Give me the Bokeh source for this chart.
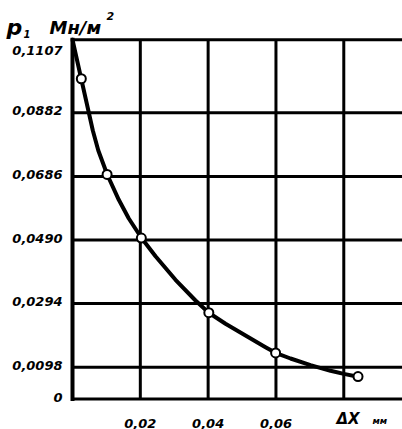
from bokeh.plotting import figure
from bokeh.models import Range1d
from bokeh.core.properties import value
from bokeh.embed import file_html
from bokeh.resources import INLINE

# ---- data ----
# smooth curve p1(ΔX), sampled along the drawn line
curve_x = [0.0, 0.00257, 0.00434, 0.00599, 0.00761, 0.01023, 0.01365, 0.01660,
           0.02035, 0.02448, 0.03037, 0.03627, 0.04019, 0.04512, 0.05102, 0.05692,
           0.05986, 0.06429, 0.07019, 0.07608, 0.08000, 0.08419]
curve_y = [0.11070, 0.09868, 0.09045, 0.08275, 0.07658, 0.06919, 0.06139, 0.05563,
           0.04962, 0.04401, 0.03674, 0.03036, 0.02657, 0.02318, 0.01957, 0.01596,
           0.01424, 0.01248, 0.01042, 0.00869, 0.00774, 0.00687]
# measured points (open circles)
point_x = [0.0026, 0.0102, 0.0203, 0.0402, 0.0599, 0.0842]
point_y = [0.0987, 0.0692, 0.0496, 0.0266, 0.0142, 0.0069]

y_ticks = [0, 0.0098, 0.0294, 0.0490, 0.0686, 0.0882, 0.1107]
y_tick_labels = ["0", "0,0098", "0,0294", "0,0490", "0,0686", "0,0882", "0,1107"]
x_ticks = [0.02, 0.04, 0.06]
x_tick_labels = ["0,02", "0,04", "0,06"]
x_grid = [0.02, 0.04, 0.06, 0.08]

# ---- layout constants (pixels in the picture) ----
W, H = 402, 429
PX_X0, PX_PER_X = 72.0, 3391.0      # picture x of ΔX=0, pixels per unit
PX_Y0, PX_PER_Y = 398.5, 3244.8     # picture y of p1=0, pixels per unit
x_start = (0 - PX_X0) / PX_PER_X
x_end = (W - PX_X0) / PX_PER_X
y_start = (PX_Y0 - H) / PX_PER_Y
y_end = PX_Y0 / PX_PER_Y

def dx(px):
    return (px - PX_X0) / PX_PER_X

def dy(py):
    return (PX_Y0 - py) / PX_PER_Y

FONT = value("DejaVu Sans")

p = figure(width=W, height=H, output_backend="svg", toolbar_location=None,
           x_range=Range1d(x_start, x_end), y_range=Range1d(y_start, y_end),
           x_axis_type=None, y_axis_type=None, min_border=0)
p.outline_line_color = None
p.background_fill_color = "white"
p.border_fill_color = "white"

y_top = y_ticks[-1]

# grid lines
hy = y_ticks[1:]
p.segment(x0=[0] * len(hy), y0=hy, x1=[x_end] * len(hy), y1=hy,
          line_color="black", line_width=3)
p.segment(x0=x_grid, y0=[0] * len(x_grid), x1=x_grid, y1=[y_top] * len(x_grid),
          line_color="black", line_width=3)
# axis lines
p.segment(x0=[0], y0=[0], x1=[x_end], y1=[0], line_color="black",
          line_width=3, line_cap="square")
p.segment(x0=[0], y0=[0], x1=[0], y1=[y_top], line_color="black",
          line_width=4, line_cap="square")

# tick labels
p.text(x=[0] * (len(y_ticks) - 1), y=y_ticks[:-1], text=y_tick_labels[:-1],
       text_font=FONT, text_font_size="13px", text_font_style="bold italic",
       text_color="black", text_align="right", text_baseline="middle",
       x_offset=-10, y_offset=-2)
p.text(x=[0], y=y_ticks[-1:], text=y_tick_labels[-1:],
       text_font=FONT, text_font_size="13px", text_font_style="bold italic",
       text_color="black", text_align="right", text_baseline="alphabetic",
       x_offset=-10, y_offset=11)
p.text(x=x_ticks, y=[0] * len(x_ticks), text=x_tick_labels, text_font=FONT,
       text_font_size="13px", text_font_style="bold italic", text_color="black",
       text_align="center", text_baseline="alphabetic", y_offset=24)

# curve and points
p.line(curve_x, curve_y, line_color="black", line_width=4,
       line_join="round", line_cap="round")
p.scatter(point_x, point_y, marker="circle", size=9, fill_color="white",
          line_color="black", line_width=2)

# title and unit labels
def lab(px, py, t, size):
    p.text(x=[dx(px)], y=[dy(py)], text=[t], text_font=FONT,
           text_font_size=size, text_font_style="bold italic",
           text_color="black", text_align="left", text_baseline="alphabetic")

lab(6, 27, "p", "22px")
lab(23, 33, "1", "10px")
lab(49, 27, "Мн/м", "18px")
lab(106, 15, "2", "11px")
lab(336, 418, "ΔX", "15px")
lab(372, 420, "мм", "9px")

open("out.html", "w").write(file_html(p, INLINE))
